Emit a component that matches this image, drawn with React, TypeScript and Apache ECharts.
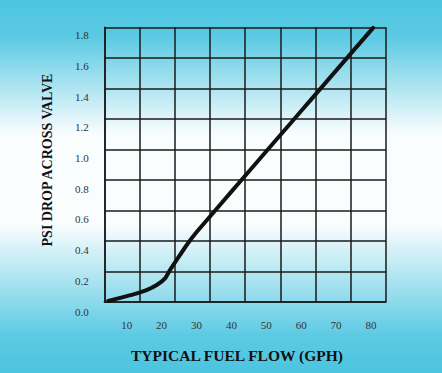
import React, { useEffect, useRef } from "react";
import * as echarts from "echarts";

const flowGph = [4.7, 8.1, 11.9, 15.7, 18.6, 21.0, 22.4, 24.3, 27.2, 30.1, 40.0, 50.0, 57.7, 62.5, 80.6];
const psiDrop = [0.07, 0.09, 0.113, 0.141, 0.174, 0.217, 0.271, 0.336, 0.434, 0.52, 0.781, 1.044, 1.246, 1.372, 1.847];
const xTicks = [10, 20, 30, 40, 50, 60, 70, 80];
const yTicks = [0, 0.2, 0.4, 0.6, 0.8, 1.0, 1.2, 1.4, 1.6, 1.8];
const xTitle = "TYPICAL FUEL FLOW (GPH)";
const yTitle = "PSI DROP ACROSS VALVE";

export default function App() {
  const ref = useRef<HTMLDivElement>(null);
  useEffect(() => {
    if (!ref.current) return;
    const chart = echarts.init(ref.current, null, { renderer: "svg" });
    const serif = "'Liberation Serif', 'DejaVu Serif', serif";
    const gridLine = { color: "#1a1a1a", width: 1.5 };
    chart.setOption({
      animation: false,
      backgroundColor: new echarts.graphic.LinearGradient(0, 0, 0, 1, [
        { offset: 0, color: "#4cc5e0" },
        { offset: 0.1, color: "#5ccae3" },
        { offset: 0.36, color: "#fafdfe" },
        { offset: 0.6, color: "#fafdfe" },
        { offset: 0.9, color: "#5ccae3" },
        { offset: 1, color: "#4cc4e0" },
      ]),
      grid: [
        { left: 91.8, right: 36.1, top: 19.7, bottom: 61.3 },
        { left: 104.3, right: 56, top: 27.3, bottom: 71 },
      ],
      xAxis: [
        {
          type: "value",
          gridIndex: 0,
          min: 0,
          max: 90,
          axisLine: { show: false },
          axisTick: { show: false },
          splitLine: { show: false },
          axisLabel: {
            customValues: xTicks,
            margin: 8,
            fontFamily: serif,
            fontSize: 11,
            color: "#333",
          },
        },
        {
          type: "value",
          gridIndex: 1,
          min: 0,
          max: 8,
          interval: 1,
          axisLine: { show: true, lineStyle: gridLine },
          axisTick: { show: false },
          axisLabel: { show: false },
          splitLine: { show: true, lineStyle: gridLine },
        },
      ],
      yAxis: [
        {
          type: "value",
          gridIndex: 0,
          min: 0,
          max: 1.9,
          axisLine: { show: false },
          axisTick: { show: false },
          splitLine: { show: false },
          axisLabel: {
            customValues: yTicks,
            margin: 3,
            fontFamily: serif,
            fontSize: 11,
            color: "#333",
            formatter: (v: number) => v.toFixed(1),
          },
        },
        {
          type: "value",
          gridIndex: 1,
          min: 0,
          max: 9,
          interval: 1,
          axisLine: { show: true, lineStyle: gridLine },
          axisTick: { show: false },
          axisLabel: { show: false },
          splitLine: { show: true, lineStyle: gridLine },
        },
      ],
      series: [
        {
          type: "line",
          xAxisIndex: 0,
          yAxisIndex: 0,
          data: flowGph.map((x, i) => [x, psiDrop[i]]),
          showSymbol: false,
          smooth: 0.15,
          lineStyle: { color: "#111", width: 4, cap: "round", join: "round" },
          z: 5,
        },
      ],
      graphic: [
        {
          type: "text",
          x: 237,
          y: 355,
          style: {
            text: xTitle,
            fontFamily: serif,
            fontWeight: "bold",
            fontSize: 15.5,
            fill: "#111",
            align: "center",
            verticalAlign: "middle",
          },
        },
        {
          type: "text",
          x: 47,
          y: 160,
          rotation: Math.PI / 2,
          style: {
            text: yTitle,
            fontFamily: serif,
            fontWeight: "bold",
            fontSize: 14,
            fill: "#111",
            align: "center",
            verticalAlign: "middle",
          },
        },
      ],
    });
    return () => chart.dispose();
  }, []);
  return (
    <div
      ref={ref}
      style={{ position: "fixed", left: 0, top: 0, width: 442, height: 373 }}
    />
  );
}
